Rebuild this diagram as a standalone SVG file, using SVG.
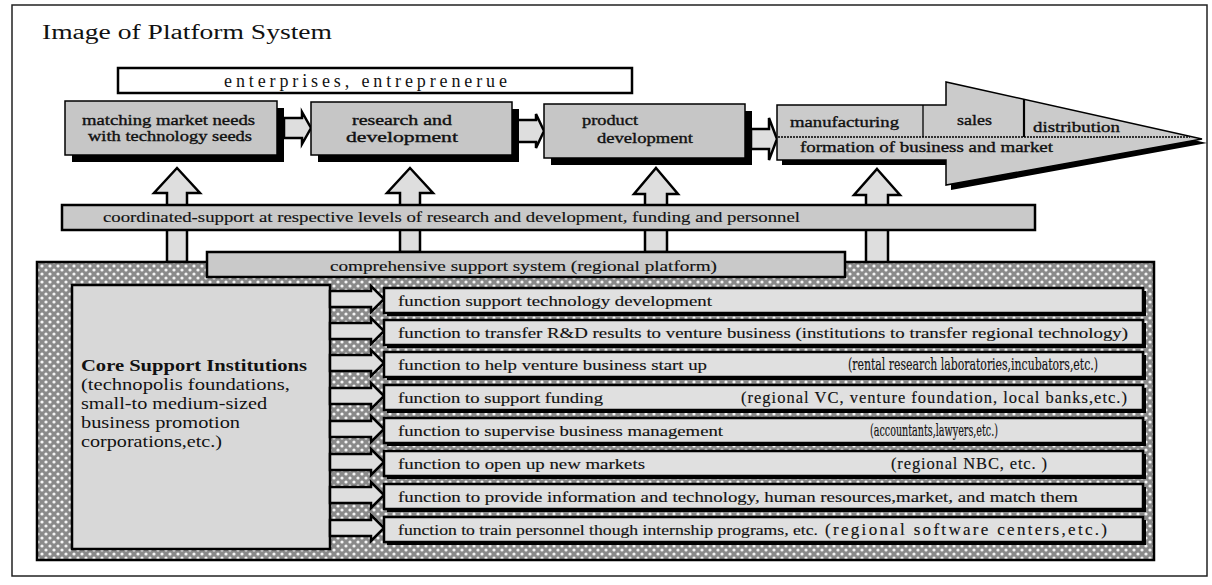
<svg xmlns="http://www.w3.org/2000/svg" width="1212" height="585" viewBox="0 0 1212 585" font-family="'Liberation Serif', 'DejaVu Serif', serif">
<style>
text{font-family:'Liberation Serif','DejaVu Serif',serif;fill:#111}
.t{font-size:15.5px;stroke:#111;stroke-width:0.15}
.b{font-size:14.5px;stroke:#111;stroke-width:0.35}
.nar{font-family:'DejaVu Serif Condensed','Liberation Serif',serif;font-stretch:condensed}
.box{fill:#c6c6c6;stroke:#000;stroke-width:1.5}
.sh{fill:#000}
.bar{fill:#c9c9c9;stroke:#000;stroke-width:2.5}
.row{fill:#e0e0e0;stroke:#000;stroke-width:2.5}
.ar{fill:#dedede;stroke:#000;stroke-width:2.5;stroke-linejoin:miter}
</style>
<defs>
<pattern id="hatch" width="8" height="8" patternUnits="userSpaceOnUse">
<rect width="8" height="8" fill="#8a8a8a"/>
<circle cx="2" cy="2" r="1.6" fill="#f4f4f4"/>
<circle cx="6" cy="6" r="1.6" fill="#f4f4f4"/>
</pattern>
</defs>
<rect x="0" y="0" width="1212" height="585" fill="#fff"/>
<rect x="12" y="5" width="1195" height="571" fill="none" stroke="#222" stroke-width="1.5"/>
<g id="title"><text x="42" y="39" font-size="20" textLength="290" lengthAdjust="spacingAndGlyphs">Image of Platform System</text></g>

<g id="enterprises">
<rect x="118" y="68" width="514" height="25" fill="#fff" stroke="#000" stroke-width="2.5"/>
<text x="224" y="87" font-size="18" textLength="283" lengthAdjust="spacing">enterprises, entreprenerue</text>
</g>

<g id="connectors">
<polygon class="ar" points="284,118 302,118 302,112 311,128 302,144 302,138 284,138"/>
<polygon class="ar" points="513,120 536,120 536,114 544,131 536,148 536,142 513,142"/>
<polygon class="ar" points="751,129 769,129 769,118 777,139 769,160 769,149 751,149"/>
<polygon class="ar" points="177,168 200,193 187,193 187,262 167,262 167,193 154,193"/>
<polygon class="ar" points="410,168 433,193 420,193 420,252 400,252 400,193 387,193"/>
<polygon class="ar" points="656,168 678,194 667,194 667,252 645,252 645,194 634,194"/>
<polygon class="ar" points="877,169 900,195 888,195 888,263 866,263 866,195 854,195"/>
</g>

<g id="box-matching">
<rect class="sh" x="72" y="108" width="212" height="54"/>
<rect class="box" x="65" y="101" width="212" height="54"/>
<text class="b" x="82" y="125" textLength="173" lengthAdjust="spacingAndGlyphs">matching market needs</text>
<text class="b" x="88" y="141" textLength="164" lengthAdjust="spacingAndGlyphs">with technology seeds</text>
</g>
<g id="box-research">
<rect class="sh" x="318" y="109" width="201" height="53"/>
<rect class="box" x="311" y="102" width="201" height="53"/>
<text class="b" x="352" y="125" textLength="100" lengthAdjust="spacingAndGlyphs">research and</text>
<text class="b" x="346" y="142" textLength="112" lengthAdjust="spacingAndGlyphs">development</text>
</g>
<g id="box-product">
<rect class="sh" x="551" y="111" width="201" height="54"/>
<rect class="box" x="544" y="104" width="201" height="54"/>
<text class="b" x="582" y="125" textLength="56" lengthAdjust="spacingAndGlyphs">product</text>
<text class="b" x="597" y="143" textLength="96" lengthAdjust="spacingAndGlyphs">development</text>
</g>

<g id="big-arrow">
<polygon class="sh" points="782,109 951,109 951,86 1207,143 951,190 951,165 782,165"/>
<polygon fill="#cbcbcb" stroke="#000" stroke-width="1.5" points="777,105 946,105 946,82 1202,139 946,185 946,160 777,160"/>
<line x1="923" y1="105" x2="923" y2="137" stroke="#000" stroke-width="1.3"/>
<line x1="1024" y1="99" x2="1024" y2="137" stroke="#000" stroke-width="2.2"/>
<line x1="778" y1="137" x2="1190" y2="137" stroke="#000" stroke-width="1.3" stroke-dasharray="2,1"/>
<text class="b" x="790" y="127" textLength="109" lengthAdjust="spacingAndGlyphs">manufacturing</text>
<text class="b" x="957" y="125" textLength="35" lengthAdjust="spacingAndGlyphs">sales</text>
<text class="b" x="1033" y="132" textLength="87" lengthAdjust="spacingAndGlyphs">distribution</text>
<text class="b" x="800" y="152" textLength="253" lengthAdjust="spacingAndGlyphs">formation of business and market</text>
</g>

<g id="coordinated-support">
<rect class="bar" x="62" y="205" width="973" height="25"/>
<text class="t" x="103" y="222" textLength="697" lengthAdjust="spacingAndGlyphs">coordinated-support at respective levels of research and development, funding and personnel</text>
</g>

<g id="regional-platform">
<rect x="37" y="262" width="1117" height="298" fill="url(#hatch)" stroke="#000" stroke-width="2.5"/>
</g>

<g id="comprehensive-support">
<rect class="bar" x="207" y="252" width="638" height="25"/>
<text class="t" x="330" y="271" textLength="387" lengthAdjust="spacingAndGlyphs">comprehensive  support system (regional platform)</text>
</g>

<g id="core-institutions">
<rect x="72" y="285" width="258" height="264" fill="#d8d8d8" stroke="#000" stroke-width="2.5"/>
<text x="81" y="371" font-size="16" font-weight="bold" textLength="226" lengthAdjust="spacingAndGlyphs">Core Support Institutions</text>
<text x="81" y="390" font-size="16" textLength="209" lengthAdjust="spacingAndGlyphs">(technopolis foundations,</text>
<text x="81" y="409" font-size="16" textLength="186" lengthAdjust="spacingAndGlyphs">small-to medium-sized</text>
<text x="81" y="428" font-size="16" textLength="159" lengthAdjust="spacingAndGlyphs">business promotion</text>
<text x="81" y="447" font-size="16" textLength="141" lengthAdjust="spacingAndGlyphs">corporations,etc.)</text>
</g>

<g id="function-arrows">
<polygon class="ar" points="330,291 371,291 371,286 384,299 371,312 371,307 330,307"/>
<polygon class="ar" points="330,323 371,323 371,318 384,331 371,344 371,339 330,339"/>
<polygon class="ar" points="330,355 371,355 371,350 384,363 371,376 371,371 330,371"/>
<polygon class="ar" points="330,388 371,388 371,383 384,396 371,409 371,404 330,404"/>
<polygon class="ar" points="330,421 371,421 371,416 384,429 371,442 371,437 330,437"/>
<polygon class="ar" points="330,454 371,454 371,449 384,462 371,475 371,470 330,470"/>
<polygon class="ar" points="330,487 371,487 371,482 384,495 371,508 371,503 330,503"/>
<polygon class="ar" points="330,520 371,520 371,515 384,528 371,541 371,536 330,536"/>
</g>

<g id="f1"><rect class="sh" x="387" y="291" width="759" height="25"/><rect class="row" x="384" y="288" width="759" height="25"/>
<text class="t" x="398" y="306" textLength="314" lengthAdjust="spacingAndGlyphs">function support technology development</text></g>
<g id="f2"><rect class="sh" x="387" y="323" width="759" height="25"/><rect class="row" x="384" y="320" width="759" height="25"/>
<text class="t" x="398" y="338" textLength="730" lengthAdjust="spacingAndGlyphs">function to transfer R&amp;D results to venture business (institutions to transfer regional technology)</text></g>
<g id="f3"><rect class="sh" x="387" y="355" width="759" height="25"/><rect class="row" x="384" y="352" width="759" height="25"/>
<text class="t" x="398" y="370" textLength="309" lengthAdjust="spacingAndGlyphs">function to help venture business start up</text>
<text class="t nar" x="848" y="370" textLength="250" lengthAdjust="spacingAndGlyphs" style="font-size:16px">(rental research laboratories,incubators,etc.)</text></g>
<g id="f4"><rect class="sh" x="387" y="388" width="759" height="25"/><rect class="row" x="384" y="385" width="759" height="25"/>
<text class="t" x="398" y="403" textLength="205" lengthAdjust="spacingAndGlyphs">function to support funding</text>
<text class="t" x="741" y="403" textLength="386" lengthAdjust="spacing" style="font-size:16.5px">(regional VC, venture foundation, local banks,etc.)</text></g>
<g id="f5"><rect class="sh" x="387" y="421" width="759" height="25"/><rect class="row" x="384" y="418" width="759" height="25"/>
<text class="t" x="398" y="436" textLength="325" lengthAdjust="spacingAndGlyphs">function to supervise business management</text>
<text class="t nar" x="870" y="436" textLength="128" lengthAdjust="spacingAndGlyphs" style="font-size:16px">(accountants,lawyers,etc.)</text></g>
<g id="f6"><rect class="sh" x="387" y="454" width="759" height="25"/><rect class="row" x="384" y="451" width="759" height="25"/>
<text class="t" x="398" y="469" textLength="247" lengthAdjust="spacingAndGlyphs">function to open up new markets</text>
<text class="t" x="891" y="469" textLength="156" lengthAdjust="spacing" style="font-size:16.5px">(regional NBC, etc. )</text></g>
<g id="f7"><rect class="sh" x="387" y="487" width="759" height="25"/><rect class="row" x="384" y="484" width="759" height="25"/>
<text class="t" x="398" y="502" textLength="680" lengthAdjust="spacingAndGlyphs">function to provide information and  technology, human resources,market, and match them</text></g>
<g id="f8"><rect class="sh" x="387" y="520" width="759" height="25"/><rect class="row" x="384" y="517" width="759" height="25"/>
<text class="t" x="398" y="535" textLength="420" lengthAdjust="spacingAndGlyphs">function to train personnel though internship programs, etc.</text>
<text class="t" x="825" y="535" textLength="282" lengthAdjust="spacing" style="font-size:17px">(regional software centers,etc.)</text></g>
</svg>
